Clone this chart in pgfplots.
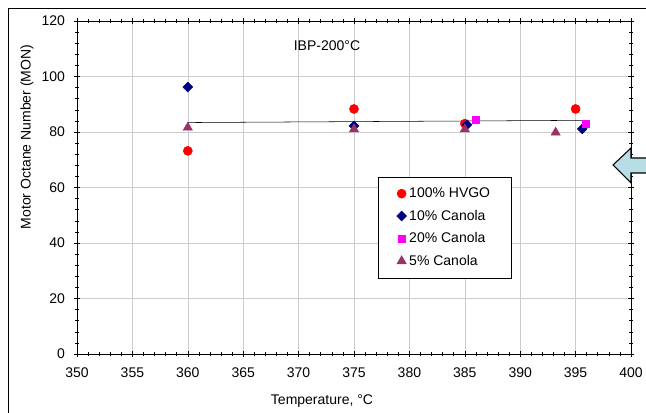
\documentclass[border=0pt]{standalone}
\usepackage{pgfplots}
\pgfplotsset{compat=1.18}
\usepackage{fontspec}
\setmainfont{Liberation Sans}

\definecolor{navyd}{RGB}{0,0,128}
\definecolor{plum}{RGB}{153,51,102}
\definecolor{pinkm}{RGB}{255,0,255}
\definecolor{arrowblue}{RGB}{183,222,228}
\newcommand{\chartfont}{\fontsize{10.5}{12.6}\selectfont}

\begin{document}
\begin{tikzpicture}
% picture area = 646 x 413 px, 1 px = 0.75pt, axis box lower left at origin
\useasboundingbox (-57.75pt,-44.25pt) rectangle (426.75pt,265.5pt);
\begin{axis}[
    at={(0,0)}, anchor=south west,
    scale only axis,
    width=415.5pt, height=249.75pt,
    xmin=350, xmax=400, ymin=0, ymax=120,
    xtick={350,355,...,400},
    ytick={0,20,...,120},
    minor x tick num=4,
    minor y tick num=4,
    tick align=center,
    major tick length=5pt,
    minor tick length=3pt,
    tick style={black, thin},
    xmajorgrids, ymajorgrids,
    major grid style={gray!40, thin},
    axis line style={black, thin},
    /pgf/number format/assume math mode=true,
    tick label style={font=\chartfont},
    yticklabel style={xshift=-3pt},
    xticklabel style={yshift=-4pt},
    legend style={
        at={(0.543,0.532)}, anchor=north west,
        draw=black, font=\chartfont,
        inner xsep=14pt, inner ysep=6pt,
        row sep=3.8pt,
        legend cell align=left
    },
    legend image code/.code={\draw[#1] plot coordinates {(0pt,0pt)};},
]
\addplot[only marks, mark=*, mark size=3.4pt, color=red]
    coordinates {(360,73.2) (375,88.3) (385,83.0) (395,88.3)};
\addlegendentry{100\% HVGO}

\addplot[only marks, mark=square*, mark size=2.6pt, color=navyd,
    mark options={rotate=45}]
    coordinates {(360,96.2) (375,82.2) (385.2,82.6) (395.6,81.1)};
\addlegendentry{10\% Canola}

\addplot[only marks, mark=square*, mark size=2.6pt, color=pinkm]
    coordinates {(386,84.3) (395.9,82.9)};
\addlegendentry{20\% Canola}

\addplot[only marks, mark=triangle*, mark size=4pt, color=plum]
    coordinates {(360,81.6) (375,81.0) (385,81.0) (393.2,79.8)};
\addlegendentry{5\% Canola}

\addplot[black, thin, no marks, forget plot]
    coordinates {(360,83.4) (395.6,84.2)};
\end{axis}

% labels
\node[font=\chartfont] at (187.5pt,231pt) {IBP-200°C};
\node[font=\chartfont] at (183.75pt,-35.25pt) {Temperature, °C};
\node[font=\chartfont, rotate=90] at (-37.5pt,162.75pt) {Motor Octane Number (MON)};

% chart frame and the arrow at the right edge
\begin{scope}
\clip (-57.75pt,-44.25pt) rectangle (426.75pt,265.5pt);
\draw[black, thin] (-51.75pt,-60pt) rectangle (440pt,259.5pt);
\draw[black, line width=0.8pt, fill=arrowblue]
    (402pt,141.75pt) -- (415.5pt,154.5pt) -- (415.5pt,147pt) -- (445pt,147pt)
    -- (445pt,135.75pt) -- (415.5pt,135.75pt) -- (415.5pt,128.25pt) -- cycle;
\end{scope}
\end{tikzpicture}
\end{document}
